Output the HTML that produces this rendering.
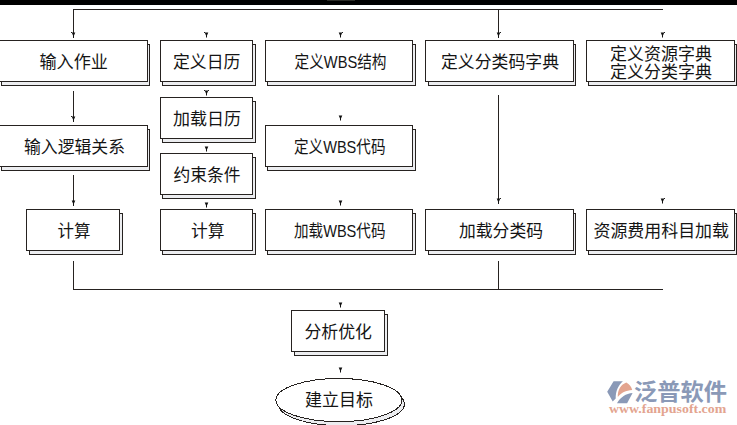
<!DOCTYPE html>
<html><head><meta charset="utf-8"><title>flow</title>
<style>html,body{margin:0;padding:0;background:#fff;font-family:"Liberation Sans",sans-serif;}svg{display:block}</style>
</head><body>
<svg width="737" height="425" viewBox="0 0 737 425" shape-rendering="crispEdges">
<rect width="737" height="425" fill="#fff"/>
<g shape-rendering="crispEdges" font-family="&quot;Liberation Sans&quot;, &quot;Noto Sans CJK SC&quot;, sans-serif" font-size="17" fill="#141414">
<rect x="0" y="0" width="737" height="4.7" fill="#000"/>
<rect x="327" y="0" width="28" height="1" fill="#2b2b26"/>
<rect x="73" y="9" width="590" height="1" fill="#262220"/>
<rect x="73" y="9" width="1" height="29" fill="#262220"/>
<path shape-rendering="geometricPrecision" fill="#111" d="M71.7 32.4h3.6l-1.3 3v2.2h-1v-2.2z"/>
<rect x="71" y="32" width="1" height="1" fill="#222"/>
<rect x="498" y="9" width="1" height="29" fill="#262220"/>
<path shape-rendering="geometricPrecision" fill="#111" d="M496.7 32.4h3.6l-1.3 3v2.2h-1v-2.2z"/>
<rect x="500" y="32" width="1" height="1" fill="#222"/>
<rect x="73" y="91" width="1" height="31" fill="#262220"/>
<path shape-rendering="geometricPrecision" fill="#111" d="M71.7 116.4h3.6l-1.3 3v2.2h-1v-2.2z"/>
<rect x="71" y="116" width="1" height="1" fill="#222"/>
<rect x="73" y="175" width="1" height="31" fill="#262220"/>
<path shape-rendering="geometricPrecision" fill="#111" d="M71.7 200.4h3.6l-1.3 3v2.2h-1v-2.2z"/>
<rect x="73" y="261" width="1" height="29" fill="#262220"/>
<rect x="498" y="95" width="1" height="109" fill="#262220"/>
<path shape-rendering="geometricPrecision" fill="#111" d="M496.7 198.4h3.6l-1.3 3v2.2h-1v-2.2z"/>
<rect x="500" y="198" width="1" height="1" fill="#222"/>
<rect x="498" y="261" width="1" height="29" fill="#262220"/>
<rect x="73" y="289" width="590" height="1" fill="#262220"/>
<path shape-rendering="geometricPrecision" fill="#111" d="M204.7 32.4h3.6l-1.3 3v2.2h-1v-2.2z"/>
<rect x="204" y="32" width="1" height="1" fill="#222"/>
<path shape-rendering="geometricPrecision" fill="#111" d="M204.7 90.4h3.6l-1.3 3v2.2h-1v-2.2z"/>
<rect x="204" y="90" width="1" height="1" fill="#222"/>
<rect x="208" y="90" width="1" height="1" fill="#222"/>
<path shape-rendering="geometricPrecision" fill="#111" d="M204.7 146.4h3.6l-1.3 3v2.2h-1v-2.2z"/>
<path shape-rendering="geometricPrecision" fill="#111" d="M204.7 202.4h3.6l-1.3 3v2.2h-1v-2.2z"/>
<path shape-rendering="geometricPrecision" fill="#111" d="M338.7 32.4h3.6l-1.3 3v2.2h-1v-2.2z"/>
<rect x="342" y="32" width="1" height="1" fill="#222"/>
<path shape-rendering="geometricPrecision" fill="#111" d="M338.7 115.4h3.6l-1.3 3v2.2h-1v-2.2z"/>
<path shape-rendering="geometricPrecision" fill="#111" d="M338.7 200.4h3.6l-1.3 3v2.2h-1v-2.2z"/>
<path shape-rendering="geometricPrecision" fill="#111" d="M338.7 302.4h3.6l-1.3 3v2.2h-1v-2.2z"/>
<path shape-rendering="geometricPrecision" fill="#111" d="M338.7 367.4h3.6l-1.3 3v2.2h-1v-2.2z"/>
<path shape-rendering="geometricPrecision" fill="#111" d="M660.7 32.4h3.6l-1.3 3v2.2h-1v-2.2z"/>
<rect x="664" y="32" width="1" height="1" fill="#222"/>
<path shape-rendering="geometricPrecision" fill="#111" d="M660.7 198.4h3.6l-1.3 3v2.2h-1v-2.2z"/>
<rect x="664" y="198" width="1" height="1" fill="#222"/>
<rect x="1.5" y="44.5" width="148" height="41" fill="#ecedf0" stroke="#262220"/>
<rect x="-0.5" y="40.5" width="148" height="41" fill="#fff" stroke="#262220"/>
<text x="39.5" y="68" textLength="68.5" lengthAdjust="spacingAndGlyphs">输入作业</text>
<rect x="162.5" y="44.5" width="93" height="41" fill="#ecedf0" stroke="#262220"/>
<rect x="160.5" y="40.5" width="92" height="41" fill="#fff" stroke="#262220"/>
<text x="173" y="68" textLength="67.5" lengthAdjust="spacingAndGlyphs">定义日历</text>
<rect x="267.5" y="44.5" width="148" height="41" fill="#ecedf0" stroke="#262220"/>
<rect x="265.5" y="40.5" width="147" height="41" fill="#fff" stroke="#262220"/>
<text x="294.5" y="68" textLength="92" lengthAdjust="spacingAndGlyphs">定义WBS结构</text>
<rect x="428.5" y="44.5" width="147" height="41" fill="#ecedf0" stroke="#262220"/>
<rect x="425.5" y="40.5" width="148" height="41" fill="#fff" stroke="#262220"/>
<text x="441" y="68" textLength="118" lengthAdjust="spacingAndGlyphs">定义分类码字典</text>
<rect x="588.5" y="44.5" width="148" height="41" fill="#ecedf0" stroke="#262220"/>
<rect x="586.5" y="40.5" width="148" height="41" fill="#fff" stroke="#262220"/>
<rect x="1.5" y="129.5" width="148" height="41" fill="#ecedf0" stroke="#262220"/>
<rect x="-0.5" y="125.5" width="148" height="41" fill="#fff" stroke="#262220"/>
<text x="24" y="153" textLength="101" lengthAdjust="spacingAndGlyphs">输入逻辑关系</text>
<rect x="162.5" y="101.5" width="93" height="41" fill="#ecedf0" stroke="#262220"/>
<rect x="160.5" y="97.5" width="92" height="41" fill="#fff" stroke="#262220"/>
<text x="173" y="125" textLength="68" lengthAdjust="spacingAndGlyphs">加载日历</text>
<rect x="162.5" y="157.5" width="93" height="41" fill="#ecedf0" stroke="#262220"/>
<rect x="160.5" y="153.5" width="92" height="41" fill="#fff" stroke="#262220"/>
<text x="173.5" y="181" textLength="67" lengthAdjust="spacingAndGlyphs">约束条件</text>
<rect x="267.5" y="129.5" width="148" height="41" fill="#ecedf0" stroke="#262220"/>
<rect x="265.5" y="125.5" width="147" height="41" fill="#fff" stroke="#262220"/>
<text x="294" y="153" textLength="91.5" lengthAdjust="spacingAndGlyphs">定义WBS代码</text>
<rect x="29.5" y="213.5" width="93" height="41" fill="#ecedf0" stroke="#262220"/>
<rect x="26.5" y="209.5" width="93" height="41" fill="#fff" stroke="#262220"/>
<text x="57.5" y="237" textLength="33" lengthAdjust="spacingAndGlyphs">计算</text>
<rect x="162.5" y="213.5" width="93" height="41" fill="#ecedf0" stroke="#262220"/>
<rect x="160.5" y="209.5" width="92" height="41" fill="#fff" stroke="#262220"/>
<text x="191" y="237" textLength="33.5" lengthAdjust="spacingAndGlyphs">计算</text>
<rect x="267.5" y="213.5" width="148" height="41" fill="#ecedf0" stroke="#262220"/>
<rect x="265.5" y="209.5" width="147" height="41" fill="#fff" stroke="#262220"/>
<text x="294" y="237" textLength="91.5" lengthAdjust="spacingAndGlyphs">加载WBS代码</text>
<rect x="428.5" y="213.5" width="147" height="41" fill="#ecedf0" stroke="#262220"/>
<rect x="425.5" y="209.5" width="148" height="41" fill="#fff" stroke="#262220"/>
<text x="459" y="237" textLength="84" lengthAdjust="spacingAndGlyphs">加载分类码</text>
<rect x="588.5" y="213.5" width="148" height="41" fill="#ecedf0" stroke="#262220"/>
<rect x="586.5" y="209.5" width="148" height="41" fill="#fff" stroke="#262220"/>
<text x="593.5" y="237" textLength="135.5" lengthAdjust="spacingAndGlyphs">资源费用科目加载</text>
<rect x="294.5" y="314.5" width="93" height="41" fill="#ecedf0" stroke="#262220"/>
<rect x="291.5" y="310.5" width="93" height="41" fill="#fff" stroke="#262220"/>
<text x="304.5" y="338" textLength="67.5" lengthAdjust="spacingAndGlyphs">分析优化</text>
<text x="610" y="60" textLength="102" lengthAdjust="spacingAndGlyphs">定义资源字典</text>
<text x="610" y="77.5" textLength="102" lengthAdjust="spacingAndGlyphs">定义分类字典</text>
<ellipse cx="341.4" cy="404.1" rx="63" ry="21.6" fill="#ecedf0" stroke="#262220"/>
<ellipse cx="338.9" cy="400.1" rx="63" ry="21.6" fill="#fff" stroke="#262220"/>
<text x="305" y="406" textLength="68" lengthAdjust="spacingAndGlyphs">建立目标</text>
<path shape-rendering="geometricPrecision" fill="#8a99b7" d="M607.2 391.8L613.6 381.2H622.9C618.5 385 615.5 391 615.7 398.6L612.7 401.5Z"/>
<path shape-rendering="geometricPrecision" fill="#e3a48f" d="M617.8 396.9C617.5 390 621 384.5 626.3 382.5C629.5 384 631.5 387 632.2 390.1C626 390.5 621 393 617.8 396.9Z"/>
<path shape-rendering="geometricPrecision" fill="#8a99b7" d="M617 403.2H627.1L632.6 393C626 393.5 620.5 397 617 403.2Z"/>
<text x="634" y="400" font-size="23" font-weight="bold" fill="#8a99b7" textLength="93" lengthAdjust="spacingAndGlyphs">泛普软件</text>
<text x="609" y="412.8" font-family="&quot;Liberation Serif&quot;, serif" font-size="13" font-weight="bold" fill="#e3a48f" textLength="117.3" lengthAdjust="spacingAndGlyphs">www.fanpusoft.com</text>
</g>
</svg>
</body></html>
